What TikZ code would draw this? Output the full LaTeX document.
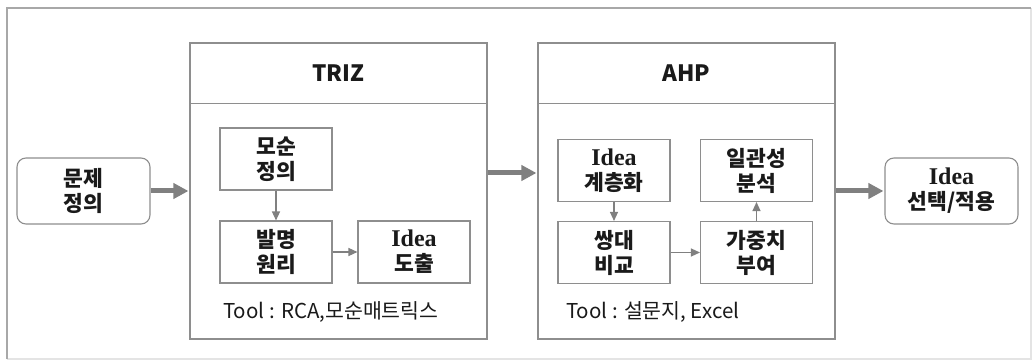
\documentclass[tikz,border=0pt]{standalone}
\usepackage{fontspec}
\setmainfont{Noto Sans CJK KR}
\newfontfamily\latinserif{Liberation Serif}
\usetikzlibrary{arrows.meta}
\definecolor{linegray}{HTML}{8E8E8E}
\definecolor{arrowgray}{HTML}{808080}
\definecolor{framegray}{HTML}{A8A8A8}
\definecolor{framelight}{HTML}{E4E4E4}
\definecolor{txt}{HTML}{1A1A1A}
\newcommand{\idea}{{\latinserif\bfseries\fontsize{24}{25}\selectfont Idea}}
\begin{document}
\begin{tikzpicture}[x=1pt,y=-1pt,
  every node/.style={text=txt},
  stepbox/.style={draw=linegray, line width=1.1pt, minimum width=112pt,
    minimum height=62pt, inner sep=0pt, align=center,
    font=\fontsize{21.5}{25}\selectfont\bfseries},
  termbox/.style={draw=linegray, line width=1.1pt, rounded corners=9pt,
    minimum width=133pt, minimum height=66pt, inner sep=0pt, align=center,
    font=\fontsize{21.5}{25}\selectfont\bfseries},
  groupbox/.style={draw=linegray, line width=1.1pt, minimum width=297pt,
    minimum height=296pt, inner sep=0pt},
  headtext/.style={font=\fontsize{22.5}{26}\selectfont\bfseries},
  tooltext/.style={anchor=west, inner sep=0pt, font=\fontsize{20.5}{24}\selectfont},
  bigarrow/.style={draw=arrowgray, line width=5pt,
    -{Triangle[length=15pt,width=15pt]}, shorten >=1pt},
  smallarrow/.style={draw=arrowgray, line width=1.3pt,
    -{Triangle[length=9pt,width=8pt]}},
]
% page background and outer frame
\useasboundingbox (0,0) rectangle (1036,363);
\fill[white] (0,0) rectangle (1036,363);
\draw[framelight, line width=1.2pt] (1031,8) -- (1031,359) -- (7,359);
\draw[framegray, line width=1.6pt] (7,359) -- (7,8) -- (1031,8);

% problem definition and final selection
\node[termbox] (prob) at (83.5,191) {문제\\정의};
\node[termbox] (select) at (951.5,191) {\idea\\선택/적용};

% TRIZ group
\node[groupbox] (triz) at (338.5,191) {};
\draw[linegray, line width=1.1pt] ([yshift=-61pt]triz.north west) -- ([yshift=-61pt]triz.north east);
\node[headtext] (trizhead) at (338.5,73) {TRIZ};
\node[stepbox] (mosun) at (276,159) {모순\\정의};
\node[stepbox] (balmyeong) at (276,252) {발명\\원리};
\node[stepbox] (ideaout) at (414,252) {\idea\\도출};
\node[tooltext] (trizTool) at (223,312) {Tool : RCA,모순매트릭스};

% AHP group
\node[groupbox] (ahp) at (686.5,191) {};
\draw[linegray, line width=1.1pt] ([yshift=-61pt]ahp.north west) -- ([yshift=-61pt]ahp.north east);
\node[headtext] (ahphead) at (686.5,73) {AHP};
\node[stepbox] (hier) at (614,170.5) {\idea\\계층화};
\node[stepbox] (pair) at (614,252.5) {쌍대\\비교};
\node[stepbox] (weight) at (756.5,252.5) {가중치\\부여};
\node[stepbox] (consist) at (756.5,170.5) {일관성\\분석};
\node[tooltext] (ahpTool) at (566,312) {Tool : 설문지, Excel};

% flow between stages
\draw[bigarrow] (prob.east) -- (triz.west |- prob.east);
\draw[bigarrow] ([yshift=18pt]triz.east) -- ([yshift=18pt]ahp.west);
\draw[bigarrow] (ahp.east |- select.west) -- (select.west);

% flow inside the groups
\draw[smallarrow] (mosun) -- (balmyeong);
\draw[smallarrow] (balmyeong) -- (ideaout);
\draw[smallarrow] (hier) -- (pair);
\draw[smallarrow] (pair) -- (weight);
\draw[smallarrow] (weight) -- (consist);
\end{tikzpicture}
\end{document}
